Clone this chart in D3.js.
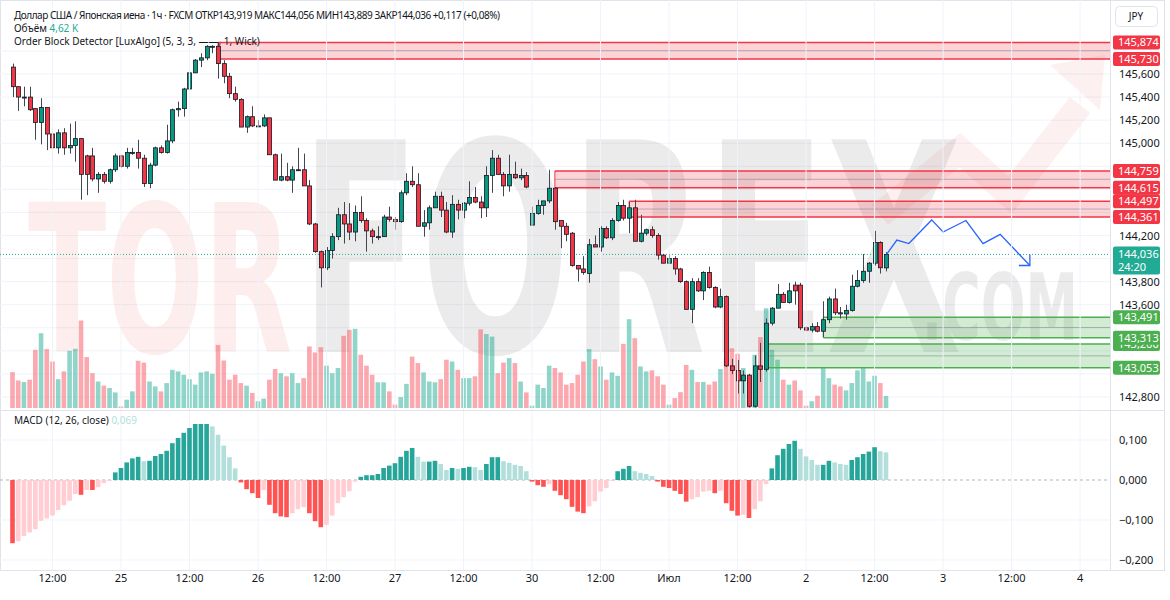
<!DOCTYPE html>
<html lang="ru">
<head>
<meta charset="UTF-8">
<title>USDJPY 1h</title>
<script src="https://d3js.org/d3.v7.min.js"></script>
<style>
  body { margin: 0; background: #fff; }
  text { font-family: "Noto Sans", "DejaVu Sans", sans-serif; }
</style>
</head>
<body>
<script>

// ---- data ----
var opens = [145.66,145.49,145.40,145.40,145.30,145.18,145.31,145.08,144.96,145.09,144.96,144.98,145.04,144.89,144.89,144.69,144.73,144.67,144.77,144.89,
 144.80,144.92,144.92,144.87,144.65,144.81,144.96,144.92,145.02,145.29,145.30,145.47,145.61,145.72,145.74,145.84,145.84,145.69,145.58,145.43,
 145.38,145.14,145.23,145.15,145.15,145.22,144.90,144.68,144.71,144.68,144.77,144.77,144.63,144.30,144.06,143.92,144.07,144.19,144.38,144.30,
 144.23,144.40,144.33,144.24,144.19,144.19,144.36,144.34,144.32,144.57,144.67,144.64,144.28,144.31,144.44,144.54,144.42,144.23,144.47,144.42,
 144.48,144.53,144.49,144.44,144.72,144.87,144.73,144.63,144.73,144.70,144.72,144.29,144.39,144.46,144.50,144.61,144.33,144.28,144.22,143.94,
 143.91,143.87,144.12,144.10,144.26,144.18,144.33,144.46,144.35,144.44,144.15,144.22,144.25,144.20,144.03,143.96,144.00,143.91,143.80,143.56,
 143.80,143.72,143.88,143.75,143.58,143.67,143.07,143.03,142.94,142.99,142.72,143.07,143.04,143.44,143.57,143.69,143.62,143.77,143.77,143.40,
 143.38,143.41,143.37,143.47,143.65,143.53,143.52,143.55,143.76,143.81,143.89,143.96,144.14,143.919];
var highs = [145.69,145.49,145.49,145.49,145.30,145.39,145.31,145.13,145.12,145.13,145.17,145.19,145.04,144.90,144.96,144.75,144.75,144.78,144.91,144.90,
 144.96,144.96,145.03,144.90,144.83,144.97,144.98,145.16,145.30,145.36,145.48,145.65,145.73,145.78,145.85,145.85,145.874,145.72,145.61,145.49,
 145.39,145.24,145.32,145.20,145.25,145.22,144.91,144.91,144.83,144.80,144.96,144.91,144.68,144.31,144.07,144.10,144.22,144.44,144.49,144.48,
 144.46,144.54,144.35,144.26,144.28,144.38,144.45,144.36,144.59,144.74,144.80,144.74,144.42,144.46,144.58,144.58,144.49,144.55,144.51,144.49,
 144.67,144.62,144.54,144.80,144.94,144.90,144.75,144.90,144.84,144.78,144.75,144.45,144.51,144.50,144.77,144.62,144.33,144.31,144.23,143.94,
 144.02,144.17,144.20,144.28,144.28,144.35,144.49,144.51,144.49,144.51,144.38,144.26,144.28,144.22,144.04,144.04,144.02,143.92,143.81,143.83,
 143.83,143.89,143.93,143.76,143.74,143.68,143.13,143.12,143.03,143.00,143.16,143.27,143.48,143.58,143.78,143.71,143.79,143.80,143.79,143.41,
 143.44,143.45,143.63,143.67,143.74,143.58,143.60,143.86,143.90,144.04,143.97,144.24,144.15,144.056];
var lows = [145.40,145.28,145.32,145.28,145.03,144.99,144.94,144.84,144.91,144.90,144.91,144.84,144.51,144.55,144.67,144.57,144.65,144.65,144.75,144.79,
 144.78,144.90,144.78,144.62,144.61,144.80,144.91,144.91,145.00,145.23,145.23,145.45,145.61,145.66,145.72,145.78,145.56,145.52,145.39,145.36,
 145.14,145.09,145.14,145.14,145.14,144.90,144.68,144.67,144.67,144.57,144.76,144.63,144.29,144.05,143.75,143.90,144.00,144.16,144.13,144.16,
 144.15,144.31,144.06,144.13,144.16,144.19,144.32,144.25,144.31,144.55,144.62,144.28,144.19,144.25,144.44,144.36,144.22,144.18,144.34,144.35,
 144.46,144.48,144.35,144.36,144.57,144.73,144.54,144.58,144.69,144.68,144.61,144.29,144.38,144.38,144.48,144.25,144.09,144.15,143.93,143.80,
 143.86,143.79,144.10,144.06,144.17,144.16,144.32,144.33,144.22,144.15,144.14,144.20,144.18,143.99,143.96,143.96,143.86,143.79,143.56,143.44,
 143.71,143.64,143.74,143.57,143.57,143.06,143.00,142.83,142.83,142.71,142.71,142.93,143.02,143.42,143.57,143.62,143.61,143.60,143.38,143.37,
 143.36,143.36,143.32,143.44,143.51,143.48,143.47,143.54,143.75,143.79,143.79,143.94,143.87,143.889];
var closes = [145.49,145.40,145.40,145.29,145.18,145.31,145.08,144.96,145.09,144.96,144.98,145.04,144.73,144.73,144.69,144.73,144.67,144.77,144.89,144.80,
 144.92,144.92,144.87,144.65,144.81,144.96,144.92,145.02,145.29,145.30,145.47,145.61,145.72,145.74,145.84,145.84,145.69,145.58,145.43,145.38,
 145.14,145.23,145.15,145.15,145.22,144.90,144.68,144.71,144.68,144.77,144.77,144.63,144.30,144.06,143.92,144.07,144.19,144.38,144.30,144.23,
 144.40,144.33,144.24,144.19,144.19,144.36,144.34,144.32,144.57,144.67,144.64,144.28,144.31,144.44,144.54,144.42,144.23,144.47,144.42,144.48,
 144.53,144.49,144.44,144.72,144.87,144.73,144.63,144.73,144.70,144.72,144.62,144.39,144.46,144.50,144.61,144.32,144.28,144.21,143.94,143.91,
 143.88,144.12,144.10,144.26,144.18,144.33,144.46,144.35,144.44,144.15,144.22,144.25,144.20,144.03,143.96,144.00,143.91,143.80,143.56,143.80,
 143.72,143.88,143.75,143.58,143.67,143.07,143.03,142.94,142.99,142.72,143.07,143.04,143.44,143.57,143.69,143.62,143.72,143.72,143.40,143.38,
 143.41,143.37,143.47,143.65,143.53,143.52,143.55,143.76,143.81,143.89,143.96,144.14,143.92,144.036];
// volume, thousands
var volumes = [13.8,10.6,10.0,10.9,22.4,28.8,22.7,17.9,11.1,14.1,22.0,22.8,33.7,19.6,13.4,10.2,8.6,7.7,6.0,0.6,
 3.2,6.4,18.2,17.5,10.2,8.3,6.4,9.6,14.7,14.1,12.8,11.1,9.0,13.7,14.1,13.2,24.3,18.3,10.9,12.8,
 9.6,8.6,5.8,2.6,3.6,10.9,15.0,13.4,12.2,13.4,9.6,11.5,23.7,21.4,23.4,16.3,13.4,15.4,27.8,30.1,
 30.5,20.5,16.3,12.8,9.9,9.9,6.4,1.3,4.2,9.3,19.8,17.3,13.7,10.2,9.9,11.1,18.6,17.9,14.7,11.5,
 11.5,12.2,30.3,28.5,27.5,13.4,17.5,19.2,17.3,10.2,6.0,0.9,9.0,7.7,16.3,15.4,13.7,9.0,9.6,12.8,
 17.9,22.7,18.8,16.0,10.9,13.7,12.4,24.7,34.2,26.9,16.0,14.1,14.5,12.2,9.0,1.3,3.8,6.1,16.6,14.7,
 10.0,10.0,9.0,10.2,15.0,19.2,23.0,20.9,15.4,12.2,20.5,27.3,38.4,22.4,18.6,10.9,9.0,10.6,6.8,0.9,
 2.6,4.7,15.7,11.5,9.0,8.3,6.8,9.6,14.5,15.7,10.2,12.4,9.6,4.62];
var macdHist = [-0.158,-0.153,-0.140,-0.131,-0.123,-0.102,-0.096,-0.089,-0.075,-0.063,-0.052,-0.035,-0.037,-0.025,-0.025,-0.018,-0.008,-0.002,0.019,0.030,
 0.044,0.054,0.058,0.047,0.048,0.060,0.065,0.073,0.092,0.105,0.118,0.130,0.140,0.140,0.140,0.134,0.113,0.086,0.057,0.029,
 -0.006,-0.023,-0.033,-0.045,-0.025,-0.062,-0.083,-0.091,-0.093,-0.083,-0.073,-0.068,-0.083,-0.103,-0.118,-0.112,-0.089,-0.058,-0.043,-0.028,
 -0.004,0.008,0.012,0.012,0.015,0.030,0.036,0.042,0.058,0.073,0.080,0.058,0.046,0.046,0.048,0.040,0.025,0.030,0.028,0.030,
 0.033,0.032,0.025,0.040,0.057,0.057,0.047,0.043,0.038,0.035,0.022,-0.004,-0.013,-0.017,-0.010,-0.027,-0.038,-0.048,-0.067,-0.079,
 -0.083,-0.066,-0.053,-0.029,-0.020,-0.002,0.022,0.028,0.035,0.022,0.018,0.015,0.010,-0.004,-0.017,-0.020,-0.027,-0.035,-0.054,-0.048,
 -0.043,-0.029,-0.027,-0.033,-0.027,-0.058,-0.077,-0.089,-0.087,-0.095,-0.073,-0.053,-0.010,0.029,0.062,0.078,0.090,0.098,0.078,0.059,
 0.050,0.038,0.038,0.048,0.044,0.040,0.038,0.050,0.057,0.065,0.071,0.082,0.072,0.069];

var timeTickIdx = [7,19,31,43,55,67,79,91,103,115,127,139,151,163,175,187];
var timeTickLabels = ["12:00","25","12:00","26","12:00","27","12:00","30","12:00","Июл","12:00","2","12:00","3","12:00","4"];
var priceTicks = [142.8,143.0,143.2,143.4,143.6,143.8,144.0,144.2,144.4,144.6,144.8,145.0,145.2,145.4,145.6,145.8];
var macdTicks = [0.1,0,-0.1,-0.2];

// order blocks: start candle, top, bottom, kind
var obStart = [36,95,108,142,132];
var obTop = [145.874,144.759,144.497,143.491,143.260];
var obBottom = [145.730,144.615,144.361,143.313,143.053];
var obKind = ["bear","bear","bear","bull","bull"];

// hand-drawn forecast path (candle index, price)
var fcIdx = [153.1,154.9,157,161,163,167,170,173,178.2];
var fcPrice = [144.036,144.16,144.13,144.335,144.23,144.33,144.13,144.21,143.94];

var lastPrice = 144.036;

// ---- layout ----
var W = 1170, H = 600;
var plotR = 1110;
var svg = d3.select("body").append("svg").attr("width", W).attr("height", H);

var x = d3.scaleLinear().domain([0, 153]).range([12.5, 886]);
var y = d3.scaleLinear().domain([142.8, 145.6]).range([397, 74]);
var yVol = d3.scaleLinear().domain([0, 38.4]).range([408, 308.3]);
var yMacd = d3.scaleLinear().domain([-0.2, 0.1]).range([560, 440]);

var green = "#089981", red = "#f23645";
var fmt = function (v) { return v.toFixed(3).replace(".", ",").replace("-", "−"); };

// frame
svg.append("rect").attr("x", 0.5).attr("y", 0.5).attr("width", W - 6).attr("height", 570)
    .attr("fill", "none").attr("stroke", "#e0e3eb");

var main = svg.append("g").attr("clip-path", "url(#clipMain)");
svg.append("clipPath").attr("id", "clipMain").append("rect")
    .attr("x", 0).attr("y", 0).attr("width", plotR).attr("height", 410);

// grid
svg.append("g").selectAll("line").data(timeTickIdx).enter().append("line")
    .attr("x1", d => x(d)).attr("x2", d => x(d)).attr("y1", 0).attr("y2", 570)
    .attr("stroke", "#f0f3fa");
main.append("g").selectAll("line").data(priceTicks).enter().append("line")
    .attr("x1", 0).attr("x2", plotR).attr("y1", d => y(d)).attr("y2", d => y(d))
    .attr("stroke", "#f0f3fa");
svg.append("g").selectAll("line").data(macdTicks.filter(d => d !== 0)).enter().append("line")
    .attr("x1", 0).attr("x2", plotR).attr("y1", d => yMacd(d)).attr("y2", d => yMacd(d))
    .attr("stroke", "#f0f3fa");

// watermark
var wm = main.append("g");
wm.append("polyline")
    .attr("points", "880,215 960,150 1010,195 1080,105")
    .attr("fill", "none").attr("stroke", "rgba(235,60,60,0.08)").attr("stroke-width", 26);
wm.append("polygon").attr("points", "1050,65 1105,55 1100,110")
    .attr("fill", "rgba(235,60,60,0.08)");
wm.append("text").text("TOR").attr("x", 28).attr("y", 352)
    .attr("textLength", 264).attr("lengthAdjust", "spacingAndGlyphs")
    .style("font-family", "DejaVu Sans Condensed").style("font-weight", "bold").style("font-size", "205px")
    .attr("fill", "rgba(235,60,60,0.09)");
wm.append("text").text("FOREX").attr("x", 300).attr("y", 352)
    .attr("textLength", 662).attr("lengthAdjust", "spacingAndGlyphs")
    .style("font-family", "DejaVu Sans Condensed").style("font-weight", "bold").style("font-size", "292px")
    .attr("fill", "rgba(0,0,0,0.08)");
wm.append("text").text(".COM").attr("x", 922).attr("y", 340)
    .attr("textLength", 156).attr("lengthAdjust", "spacingAndGlyphs")
    .style("font-family", "DejaVu Sans Condensed").style("font-weight", "bold").style("font-size", "92px")
    .attr("fill", "rgba(0,0,0,0.08)");

var idx = d3.range(closes.length);

// volume
main.append("g").selectAll("rect").data(idx).enter().append("rect")
    .attr("x", i => x(i) - 2.3).attr("width", 4.6)
    .attr("y", i => yVol(volumes[i])).attr("height", i => yVol(0) - yVol(volumes[i]))
    .attr("fill", i => closes[i] >= opens[i] ? "rgba(34,171,148,0.5)" : "rgba(247,82,95,0.5)");

// order blocks
obStart.forEach(function (s, k) {
    var c = obKind[k] === "bear" ? red : "#4caf50";
    var f = obKind[k] === "bear" ? "rgba(242,54,69,0.22)" : "rgba(76,175,80,0.25)";
    var g = main.append("g");
    g.append("rect").attr("x", x(s)).attr("width", plotR - x(s))
        .attr("y", y(obTop[k])).attr("height", y(obBottom[k]) - y(obTop[k])).attr("fill", f);
    [obTop[k], obBottom[k]].forEach(function (p) {
        g.append("line").attr("x1", x(s)).attr("x2", plotR)
            .attr("y1", y(p)).attr("y2", y(p)).attr("stroke", c).attr("stroke-width", 1.5);
    });
    g.append("line").attr("x1", x(s)).attr("x2", x(s))
        .attr("y1", y(obTop[k])).attr("y2", y(obBottom[k])).attr("stroke", c);
    var m = (obTop[k] + obBottom[k]) / 2;
    g.append("line").attr("x1", x(s)).attr("x2", plotR)
        .attr("y1", y(m)).attr("y2", y(m)).attr("stroke", "rgba(120,123,134,0.5)");
});

// last price line
main.append("line").attr("x1", 0).attr("x2", plotR).attr("y1", y(lastPrice)).attr("y2", y(lastPrice))
    .attr("stroke", "#22ab94").attr("stroke-dasharray", "1,2");

// candles
var cg = main.append("g");
cg.selectAll("line").data(idx).enter().append("line")
    .attr("x1", i => Math.round(x(i)) + 0.5).attr("x2", i => Math.round(x(i)) + 0.5)
    .attr("y1", i => y(highs[i])).attr("y2", i => y(lows[i]))
    .attr("stroke", "#434651");
cg.selectAll("rect").data(idx).enter().append("rect")
    .attr("x", i => Math.round(x(i)) - 1.5).attr("width", 4)
    .attr("y", i => y(Math.max(opens[i], closes[i])))
    .attr("height", i => Math.max(1, Math.abs(y(opens[i]) - y(closes[i]))))
    .attr("fill", i => closes[i] >= opens[i] ? green : red)
    .attr("stroke", "#131722").attr("stroke-width", 0.8);

// forecast
var fcPts = fcIdx.map((d, i) => [x(d), y(fcPrice[i])]);
main.append("path").attr("d", d3.line()(fcPts))
    .attr("fill", "none").attr("stroke", "#2962ff").attr("stroke-width", 1.3);
var end = fcPts[fcPts.length - 1];
main.append("path").attr("d", d3.line()([[end[0] - 11, end[1]], end, [end[0], end[1] - 11]]))
    .attr("fill", "none").attr("stroke", "#2962ff").attr("stroke-width", 1.3);

// MACD histogram
svg.append("line").attr("x1", 0).attr("x2", plotR).attr("y1", yMacd(0)).attr("y2", yMacd(0))
    .attr("stroke", "#b2b5be").attr("stroke-dasharray", "3,3");
svg.append("g").selectAll("rect").data(idx).enter().append("rect")
    .attr("x", i => x(i) - 2.3).attr("width", 4.6)
    .attr("y", i => yMacd(Math.max(0, macdHist[i])))
    .attr("height", i => Math.max(0.5, Math.abs(yMacd(macdHist[i]) - yMacd(0))))
    .attr("fill", function (i) {
        var v = macdHist[i], p = i > 0 ? macdHist[i - 1] : v;
        if (v >= 0) return v >= p ? "#26a69a" : "#b2dfdb";
        return v <= p ? "#ff5252" : "#ffcdd2";
    });

// pane separators
svg.append("line").attr("x1", 0).attr("x2", W - 6).attr("y1", 410.5).attr("y2", 410.5).attr("stroke", "#e0e3eb");
svg.append("line").attr("x1", plotR + 0.5).attr("x2", plotR + 0.5).attr("y1", 0).attr("y2", 570).attr("stroke", "#e0e3eb");

// price axis (ticks hidden under the coloured labels are skipped)
var boxed = obTop.concat(obBottom).concat([lastPrice]);
var pa = svg.append("g").style("font-size", "11px").attr("fill", "#131722");
pa.selectAll("text").data(priceTicks.filter(d => boxed.every(b => Math.abs(y(b) - y(d)) > 12)))
    .enter().append("text")
    .attr("x", 1119).attr("y", d => y(d) + 4).text(fmt);
obTop.concat(obBottom).forEach(function (p, j) {
    var k = j % obTop.length;
    var c = obKind[k] === "bear" ? red : "#4caf50";
    pa.append("rect").attr("x", 1113).attr("y", y(p) - 7).attr("width", 47).attr("height", 14)
        .attr("rx", 2).attr("fill", c);
    pa.append("text").attr("x", 1118).attr("y", y(p) + 4).attr("fill", "#fff").text(fmt(p));
});
pa.append("rect").attr("x", 1113).attr("y", y(lastPrice) - 8).attr("width", 47).attr("height", 28)
    .attr("rx", 2).attr("fill", "#22ab94");
pa.append("text").attr("x", 1118).attr("y", y(lastPrice) + 4).attr("fill", "#fff").text(fmt(lastPrice));
pa.append("text").attr("x", 1118).attr("y", y(lastPrice) + 17).attr("fill", "#fff").text("24:20");
pa.append("rect").attr("x", 1115.5).attr("y", 6.5).attr("width", 42).attr("height", 20).attr("rx", 4)
    .attr("fill", "#fff").attr("stroke", "#e0e3eb");
pa.append("text").attr("x", 1136).attr("y", 20).attr("text-anchor", "middle").style("font-size", "10px").text("JPY");

// macd axis
svg.append("g").style("font-size", "11px").attr("fill", "#131722")
    .selectAll("text").data(macdTicks).enter().append("text")
    .attr("x", 1119).attr("y", d => yMacd(d) + 4).text(fmt);

// time axis
svg.append("g").style("font-size", "11px").attr("fill", "#131722")
    .selectAll("text").data(timeTickIdx).enter().append("text")
    .attr("x", d => x(d)).attr("y", 582).attr("text-anchor", "middle")
    .text((d, i) => timeTickLabels[i]);

// legends
var lg = svg.append("g").style("font-size", "10px").attr("fill", "#131722");
lg.append("text").attr("x", 14).attr("y", 19)
    .attr("textLength", 486).attr("lengthAdjust", "spacing")
    .text("Доллар США / Японская иена · 1ч · FXCM ОТКР143,919 МАКС144,056 МИН143,889 ЗАКР144,036 +0,117 (+0,08%)");
var vt = lg.append("text").attr("x", 14).attr("y", 32);
vt.append("tspan").text("Объём ");
vt.append("tspan").attr("fill", "#22ab94").text(" 4,62 K");
lg.append("text").attr("x", 14).attr("y", 45).text("Order Block Detector [LuxAlgo] (5, 3, 3, ——, 1, Wick)");
var mt = lg.append("text").attr("x", 14).attr("y", 424);
mt.append("tspan").text("MACD (12, 26, close) ");
mt.append("tspan").attr("fill", "#b2dfdb").text(" 0,069");

</script>
</body>
</html>
